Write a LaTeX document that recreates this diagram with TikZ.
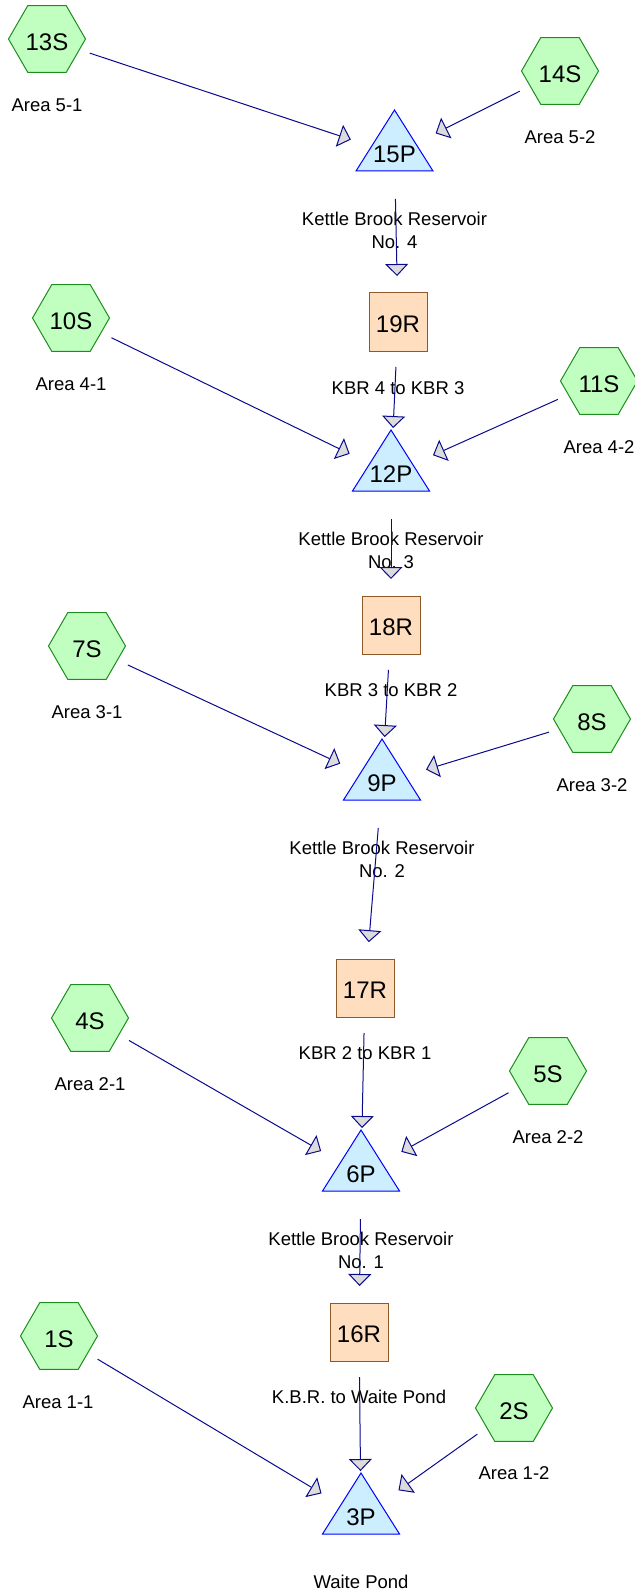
\documentclass[tikz,border=0pt]{standalone}
\usepackage{fontspec}
\setmainfont{Liberation Sans}
\usetikzlibrary{shapes.geometric,arrows.meta}
\definecolor{hexfill}{RGB}{192,255,192}
\definecolor{hexdraw}{RGB}{30,140,30}
\definecolor{trifill}{RGB}{204,238,255}
\definecolor{tridraw}{RGB}{0,0,255}
\definecolor{boxfill}{RGB}{255,222,192}
\definecolor{boxdraw}{RGB}{140,90,40}
\definecolor{linkcol}{RGB}{10,10,140}
\definecolor{tipfill}{RGB}{220,220,220}
\newcommand\pondnode[4]{%
  \draw[pondshape] (#2,#3) -- ++(38.5,61) -- ++(-77,0) -- cycle;
  \node[pondtext] (#1) at (#2,#3+44) {#4};
}
\begin{document}
\begin{tikzpicture}[x=1pt,y=-1pt,
  hexnode/.style={regular polygon, regular polygon sides=6, minimum size=77pt, inner sep=0pt,
    draw=hexdraw, fill=hexfill, line width=1pt, font=\fontsize{24}{28}\selectfont,
    text height=23pt, text depth=0pt},
  boxnode/.style={rectangle, minimum size=58pt, inner sep=0pt, draw=boxdraw, fill=boxfill,
    line width=1pt, font=\fontsize{24}{28}\selectfont, text height=21pt, text depth=0pt},
  pondtext/.style={inner sep=0pt, font=\fontsize{24}{28}\selectfont},
  pondshape/.style={draw=tridraw, fill=trifill, line width=1pt},
  lbl/.style={inner sep=0pt, font=\fontsize{18.5}{23}\selectfont, align=center},
  link/.style={draw=linkcol, line width=1pt, -{Triangle[length=12pt,width=23pt,fill=tipfill]},
    shorten <=45pt, shorten >=46pt}
]
\useasboundingbox (0,0) rectangle (634,1594);

% subcatchments
\node[hexnode] (s13) at (47,39) {13S};
\node[hexnode] (s14) at (560,71) {14S};
\node[hexnode] (s10) at (71,318) {10S};
\node[hexnode] (s11) at (599,381) {11S};
\node[hexnode] (s7) at (87,646) {7S};
\node[hexnode] (s8) at (592,719) {8S};
\node[hexnode] (s4) at (90,1018) {4S};
\node[hexnode] (s5) at (548,1071) {5S};
\node[hexnode] (s1) at (59,1336) {1S};
\node[hexnode] (s2) at (514,1408) {2S};

\node[lbl] (l13) at (47,105) {Area 5-1};
\node[lbl] (l14) at (560,137) {Area 5-2};
\node[lbl] (l10) at (71,384) {Area 4-1};
\node[lbl] (l11) at (599,447) {Area 4-2};
\node[lbl] (l7) at (87,712) {Area 3-1};
\node[lbl] (l8) at (592,785) {Area 3-2};
\node[lbl] (l4) at (90,1084) {Area 2-1};
\node[lbl] (l5) at (548,1137) {Area 2-2};
\node[lbl] (l1) at (58,1402) {Area 1-1};
\node[lbl] (l2) at (514,1473) {Area 1-2};

% ponds
\pondnode{p15}{394.5}{110}{15P}
\pondnode{p12}{391}{430}{12P}
\pondnode{p9}{382}{739}{9P}
\pondnode{p6}{361}{1130}{6P}
\pondnode{p3}{361}{1473}{3P}

\node[lbl] (lp15) at (394.5,230.5) {Kettle Brook Reservoir\\No. 4};
\node[lbl] (lp12) at (391,550.5) {Kettle Brook Reservoir\\No. 3};
\node[lbl] (lp9) at (382,859.5) {Kettle Brook Reservoir\\No. 2};
\node[lbl] (lp6) at (361,1250.5) {Kettle Brook Reservoir\\No. 1};
\node[lbl] (lp3) at (361,1582) {Waite Pond};

% reaches
\node[boxnode] (r19) at (398,322) {19R};
\node[boxnode] (r18) at (391,625) {18R};
\node[boxnode] (r17) at (365,988) {17R};
\node[boxnode] (r16) at (359,1332) {16R};

\node[lbl] (lr19) at (398,388) {KBR 4 to KBR 3};
\node[lbl] (lr18) at (391,690) {KBR 3 to KBR 2};
\node[lbl] (lr17) at (365,1053) {KBR 2 to KBR 1};
\node[lbl] (lr16) at (359,1397) {K.B.R. to Waite Pond};

% links
\draw[link] (s13.center) -- (p15.center);
\draw[link] (s14.center) -- (p15.center);
\draw[link] (p15.center) -- (r19.center);
\draw[link] (r19.center) -- (p12.center);
\draw[link] (s10.center) -- (p12.center);
\draw[link] (s11.center) -- (p12.center);
\draw[link] (p12.center) -- (r18.center);
\draw[link] (r18.center) -- (p9.center);
\draw[link] (s7.center) -- (p9.center);
\draw[link] (s8.center) -- (p9.center);
\draw[link] (p9.center) -- (r17.center);
\draw[link] (r17.center) -- (p6.center);
\draw[link] (s4.center) -- (p6.center);
\draw[link] (s5.center) -- (p6.center);
\draw[link] (p6.center) -- (r16.center);
\draw[link] (r16.center) -- (p3.center);
\draw[link] (s1.center) -- (p3.center);
\draw[link] (s2.center) -- (p3.center);
\end{tikzpicture}
\end{document}
